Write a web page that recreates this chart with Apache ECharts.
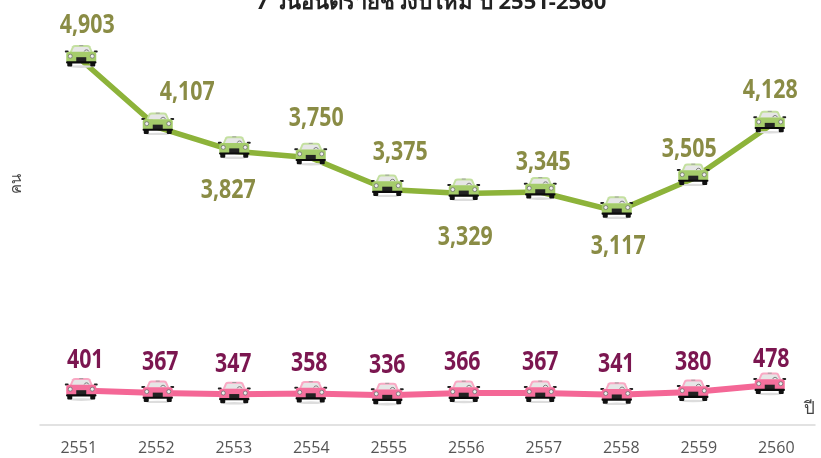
<!DOCTYPE html>
<html><head><meta charset="utf-8">
<style>html,body{margin:0;padding:0;background:#fff}#c{width:821px;height:458px}</style>
<script src="https://cdn.jsdelivr.net/npm/echarts@6/dist/echarts.min.js"></script>
</head><body><div id="c"></div>
<script>
const years = ['2551','2552','2553','2554','2555','2556','2557','2558','2559','2560'];
const greenValues = [4903,4107,3827,3750,3375,3329,3345,3117,3505,4128];
const pinkValues = [401,367,347,358,336,366,367,341,380,478];
const titleText = '7 วันอันตรายช่วงปีใหม่ ปี 2551-2560';
const yName = 'คน';
const xName = 'ปี';

const greenLabelShift = [[6,-35],[29.5,-35.5],[-6,39],[5.5,-39.7],[13,-37.5],[1.5,43.6],[3,-30],[1.5,34.6],[-4,-29.5],[0.5,-35.7]];
const pinkLabelShift = [[4,-30.5],[2.5,-30.5],[-1,-30.5],[-1.5,-30.5],[0,-30.1],[-1.5,-31],[0,-30.5],[-0.5,-30.5],[0,-30],[1.5,-26]];

function car(body, roof){
  const svg = `<svg xmlns="http://www.w3.org/2000/svg" width="68" height="48" viewBox="0 0 34 24">
<ellipse cx="17" cy="22.6" rx="12" ry="1.4" fill="#ddd"/>
<rect x="3" y="18" width="5" height="4.5" rx="1" fill="#111"/><rect x="26" y="18" width="5" height="4.5" rx="1" fill="#111"/>
<rect x="0.5" y="6.6" width="4" height="2" rx="1" fill="#222"/><rect x="29.5" y="6.6" width="4" height="2" rx="1" fill="#222"/>
<path d="M5.5 8 L8 2.2 Q9 1 11 1 L23 1 Q25 1 26 2.2 L28.5 8 Z" fill="${roof}"/>
<path d="M7.6 8 L9.6 3.6 Q10 3 11 3 L23 3 Q24 3 24.4 3.6 L26.4 8 Z" fill="#e6e6e6"/>
<path d="M20 7.5 A2.4 2.4 0 0 1 24.6 7.5" fill="none" stroke="#555" stroke-width="0.7"/>
<rect x="15" y="1.2" width="4" height="0.9" fill="#999"/>
<path d="M2 10 Q2 8 4 7.8 L30 7.8 Q32 8 32 10 L32 17 Q32 18.6 30 18.6 L4 18.6 Q2 18.6 2 17 Z" fill="${body}"/>
<circle cx="6" cy="12.2" r="2" fill="#eee" stroke="#666" stroke-width="0.7"/><circle cx="28" cy="12.2" r="2" fill="#eee" stroke="#666" stroke-width="0.7"/>
<rect x="12" y="13.2" width="10" height="5" fill="#222"/>
<rect x="1.8" y="17.2" width="30.4" height="2.2" rx="1" fill="#0b0b0b"/>
</svg>`;
  return 'image://data:image/svg+xml;charset=utf-8,' + encodeURIComponent(svg);
}

function labelSeries(values, shifts, color, yAxisIndex){
  return {
    type:'custom',xAxisIndex:1,yAxisIndex:yAxisIndex,z:5,silent:true,clip:false,
    encode:{x:0,y:1},
    data:values.map((v,i)=>[i,v]),
    renderItem:function(params,api){
      const i=params.dataIndex;
      const p=api.coord([api.value(0),api.value(1)]);
      return {type:'text',x:p[0]+shifts[i][0],y:p[1]+shifts[i][1],scaleX:0.79,
        style:{text:values[i].toLocaleString('en-US'),fill:color,align:'center',verticalAlign:'middle',
          font:'bold 27px "Open Sans",sans-serif'}};
    }
  };
}

const chart = echarts.init(document.getElementById('c'),null,{renderer:'canvas'});
chart.setOption({
  animation:false,
  backgroundColor:'#fff',
  title:{text:titleText,left:426,textAlign:'center',top:-13,
    textStyle:{fontFamily:'"Noto Sans","Liberation Sans",sans-serif',fontWeight:'bold',fontSize:22,color:'#222'}},
  grid:[
    {left:40,width:775,top:0,height:425,outerBoundsMode:'none'},
    {left:43,width:765,top:0,height:425,outerBoundsMode:'none'}
  ],
  xAxis:[
    {type:'category',gridIndex:0,data:years,axisTick:{show:false},
     axisLine:{lineStyle:{color:'#d9d9d9',width:1.5}},
     axisLabel:{color:'#555',fontSize:16,margin:15,fontFamily:'"Open Sans",sans-serif'}},
    {type:'category',gridIndex:1,data:years,show:false}
  ],
  yAxis:[
    {type:'value',gridIndex:0,min:0,max:1,show:false},
    {type:'value',gridIndex:1,min:596,max:5611,show:false},
    {type:'value',gridIndex:1,min:-82,max:5868,show:false}
  ],
  graphic:[
    {type:'text',x:17,y:184,rotation:Math.PI/2,style:{text:yName,fill:'#444',align:'center',verticalAlign:'middle',font:'15px "Noto Sans",sans-serif'}},
    {type:'text',x:809,y:409,style:{text:xName,fill:'#444',align:'center',verticalAlign:'middle',font:'17px "Noto Sans",sans-serif'}}
  ],
  series:[
    {type:'line',name:'green',xAxisIndex:1,yAxisIndex:1,data:greenValues,
     lineStyle:{color:'#8db33a',width:5.5},itemStyle:{color:'#8db33a'},
     symbol:car('#a5cc6b','#c4e0a0'),symbolSize:[34,24],symbolOffset:[0,-4],showAllSymbol:true},
    {type:'line',name:'pink',xAxisIndex:1,yAxisIndex:2,data:pinkValues,
     lineStyle:{color:'#f46796',width:6},itemStyle:{color:'#f46796'},
     symbol:car('#f56f9c','#f9a9c4'),symbolSize:[34,24],symbolOffset:[0,-1.5],showAllSymbol:true},
    labelSeries(greenValues,greenLabelShift,'#8a8c45',1),
    labelSeries(pinkValues,pinkLabelShift,'#7b1650',2)
  ]
});
</script></body></html>
